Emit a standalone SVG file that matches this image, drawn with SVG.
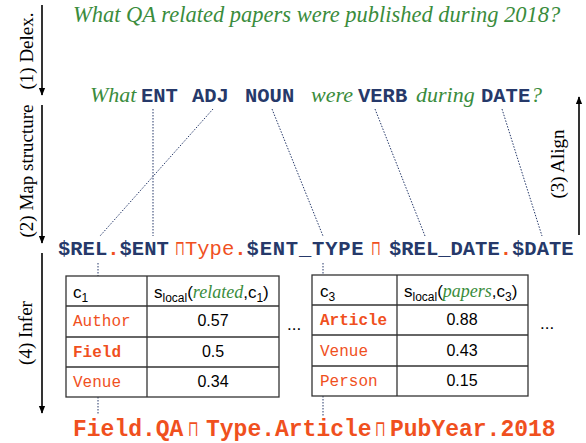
<svg xmlns="http://www.w3.org/2000/svg" width="586" height="443" viewBox="0 0 586 443">
<defs>
<marker id="ah" viewBox="0 0 10 10" refX="9" refY="5" markerWidth="5" markerHeight="5" orient="auto" markerUnits="strokeWidth">
<path d="M0,1 L10,5 L0,9 z" fill="#000"/>
</marker>
<style>
.it{font-family:"Liberation Serif",serif;font-style:italic;fill:#3a8c3c}
.mb{font-family:"Liberation Mono",monospace;font-weight:bold;fill:#26396a;font-size:20.5px}
.or{fill:#f0501e}
.reg{font-weight:normal}
.sq{font-family:"DejaVu Sans",sans-serif;font-size:21px;fill:#f0501e}
.lab{font-family:"Liberation Serif",serif;font-size:19px;fill:#000;text-anchor:middle}
.arr{stroke:#000;stroke-width:1.6;fill:none;marker-end:url(#ah)}
.dot{stroke:#26396a;stroke-width:1;stroke-dasharray:1.5 1.5;fill:none}
.tb{fill:#fff;stroke:#333;stroke-width:1.3}
.tl{stroke:#333;stroke-width:1.3}
.hd{font-family:"Liberation Sans",sans-serif;font-size:17px;fill:#000}
.cl{font-family:"Liberation Mono",monospace;font-size:16px;fill:#f0501e}
.num{font-family:"Liberation Sans",sans-serif;font-size:16px;fill:#000;text-anchor:middle}
.bot{font-family:"Liberation Mono",monospace;font-weight:bold;font-size:23px;fill:#f0501e}
</style>
</defs>

<g id="steps">
<line class="arr" x1="42" y1="5" x2="42" y2="95"/>
<line class="arr" x1="42" y1="105" x2="42" y2="243"/>
<line class="arr" x1="42" y1="253" x2="42" y2="413"/>
<line class="arr" x1="579" y1="235" x2="579" y2="97"/>
<text class="lab" transform="translate(33,51) rotate(-90)">(1) Delex.</text>
<text class="lab" transform="translate(33,171) rotate(-90)">(2) Map structure</text>
<text class="lab" transform="translate(32,333) rotate(-90)">(4) Infer</text>
<text class="lab" transform="translate(564,164) rotate(-90)">(3) Align</text>
</g>

<g id="question">
<text class="it" x="73" y="22" font-size="22.5">What QA related papers were published during 2018?</text>
</g>

<g id="delex">
<text class="it" x="90" y="102" font-size="22">What</text>
<text class="mb" x="141" y="102">ENT</text>
<text class="mb" x="192" y="102">ADJ</text>
<text class="mb" x="245" y="102">NOUN</text>
<text class="it" x="311" y="102" font-size="22">were</text>
<text class="mb" x="358" y="102">VERB</text>
<text class="it" x="416" y="102" font-size="22">during</text>
<text class="mb" x="481" y="102">DATE</text>
<text class="it" x="531" y="102" font-size="22">?</text>
</g>

<g id="structure">
<text class="mb" x="58" y="255">$REL<tspan class="or">.</tspan>$ENT</text>
<text class="sq" transform="translate(175,255) scale(0.6,1)">⊓</text>
<text class="mb" x="185" y="255"><tspan class="or reg">Type</tspan><tspan class="or">.</tspan><tspan style="letter-spacing:0.8px">$ENT_TYPE</tspan></text>
<text class="sq" transform="translate(371,255) scale(0.6,1)">⊓</text>
<text class="mb" x="389" y="255">$REL_DATE<tspan class="or">.</tspan>$DATE</text>
</g>

<g id="connectors">
<line class="dot" x1="153" y1="109" x2="153" y2="236"/>
<line class="dot" x1="213" y1="109" x2="100" y2="236"/>
<line class="dot" x1="272" y1="109" x2="323" y2="236"/>
<line class="dot" x1="375" y1="109" x2="425" y2="236"/>
<line class="dot" x1="502" y1="109" x2="542" y2="236"/>
<line class="dot" x1="98" y1="263" x2="98" y2="276"/>
<line class="dot" x1="98" y1="397" x2="98" y2="415"/>
<line class="dot" x1="323" y1="263" x2="323" y2="275"/>
<line class="dot" x1="323" y1="396" x2="323" y2="417"/>
</g>

<g id="table1">
<rect class="tb" x="66" y="276" width="213" height="121"/>
<line class="tl" x1="147" y1="276" x2="147" y2="397"/>
<line class="tl" x1="66" y1="306" x2="279" y2="306"/>
<line class="tl" x1="66" y1="337" x2="279" y2="337"/>
<line class="tl" x1="66" y1="367" x2="279" y2="367"/>
<text class="hd" x="73" y="298">c<tspan font-size="12" dy="4">1</tspan></text>
<text class="hd" x="154" y="298">s<tspan font-size="12" dy="4">local</tspan><tspan dy="-4">(</tspan><tspan class="it" font-size="18">related</tspan>,c<tspan font-size="12" dy="4">1</tspan><tspan dy="-4">)</tspan></text>
<text class="cl" x="73" y="326">Author</text>
<text class="cl" x="73" y="357" font-weight="bold">Field</text>
<text class="cl" x="73" y="387">Venue</text>
<text class="num" x="213" y="326">0.57</text>
<text class="num" x="213" y="357">0.5</text>
<text class="num" x="213" y="387">0.34</text>
<text class="hd" x="287" y="330">...</text>
</g>

<g id="table2">
<rect class="tb" x="312" y="275" width="216" height="121"/>
<line class="tl" x1="397" y1="275" x2="397" y2="396"/>
<line class="tl" x1="312" y1="305" x2="528" y2="305"/>
<line class="tl" x1="312" y1="335" x2="528" y2="335"/>
<line class="tl" x1="312" y1="366" x2="528" y2="366"/>
<text class="hd" x="320" y="297">c<tspan font-size="12" dy="4">3</tspan></text>
<text class="hd" x="404" y="297">s<tspan font-size="12" dy="4">local</tspan><tspan dy="-4">(</tspan><tspan class="it" font-size="18">papers</tspan>,c<tspan font-size="12" dy="4">3</tspan><tspan dy="-4">)</tspan></text>
<text class="cl" x="320" y="325" font-weight="bold">Article</text>
<text class="cl" x="320" y="356">Venue</text>
<text class="cl" x="320" y="386">Person</text>
<text class="num" x="462" y="325">0.88</text>
<text class="num" x="462" y="356">0.43</text>
<text class="num" x="462" y="386">0.15</text>
<text class="hd" x="540" y="329">...</text>
</g>

<g id="query">
<text class="bot" x="73" y="436">Field.QA</text>
<text class="sq" transform="translate(188,436) scale(0.65,1.05)">⊓</text>
<text class="bot" x="206" y="436">Type.Article</text>
<text class="sq" transform="translate(375,436) scale(0.65,1.05)">⊓</text>
<text class="bot" x="390" y="436">PubYear.2018</text>
</g>
</svg>
